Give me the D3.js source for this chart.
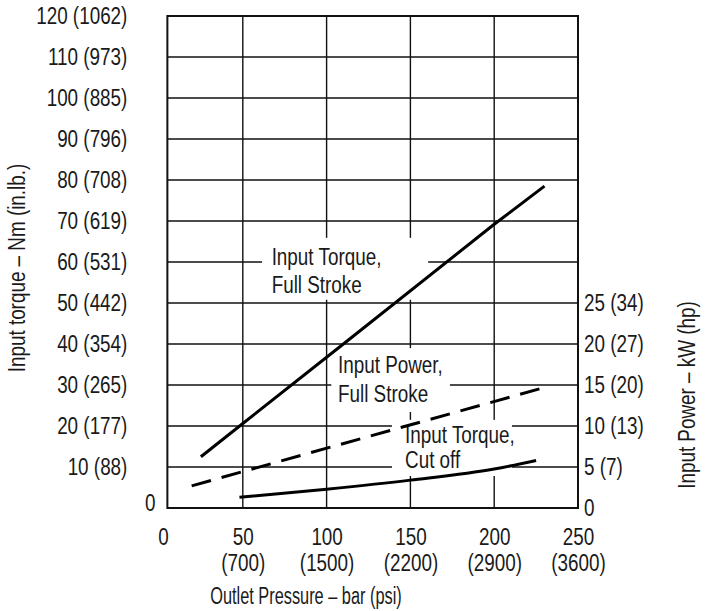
<!DOCTYPE html>
<html>
<head>
<meta charset="utf-8">
<script src="https://cdn.jsdelivr.net/npm/d3@7"></script>
<style>
  body { margin: 0; background: #fff; }
  text { font-family: "Liberation Sans", Arial, sans-serif; fill: #1a1a1a; }
</style>
</head>
<body>
<div id="wrapper"></div>
<script>
// axis ticks
const pressureBar = [0, 50, 100, 150, 200, 250];
const pressurePsi = ["", "700", "1500", "2200", "2900", "3600"];
const torqueNm = [0, 10, 20, 30, 40, 50, 60, 70, 80, 90, 100, 110, 120];
const torqueInLb = ["", "88", "177", "265", "354", "442", "531", "619", "708", "796", "885", "973", "1062"];
const powerKw = [0, 5, 10, 15, 20, 25];
const powerHp = ["", "7", "13", "20", "27", "34"];

// curves
const torqueFullBar = [25, 50, 110, 200, 230];
const torqueFullNm = [12.5, 20.6, 40, 69.2, 78.5];
const powerFullBar = [19.5, 230];
const powerFullKw = [2.7, 14.7];
const torqueCutBar = [48, 100, 150, 200, 225];
const torqueCutNm = [2.6, 4.6, 6.8, 9.5, 11.6];

const dimension = {
    width: 713,
    height: 611,
    margin: { top: 16, left: 159, bottom: 103, right: 135 }
};
dimension.boundedWidth = dimension.width - dimension.margin.left - dimension.margin.right;
dimension.boundedHeight = dimension.height - dimension.margin.top - dimension.margin.bottom;

const xStart = 5; // left frame sits a little right of 0 bar
const fontSize = "23px";

const svg = d3.select("#wrapper").append("svg")
    .attr("width", dimension.width)
    .attr("height", dimension.height);
const bounded = svg.append("g")
    .attr("transform", `translate(${dimension.margin.left},${dimension.margin.top})`);

const xScaler = d3.scaleLinear().domain([0, 250]).range([0, dimension.boundedWidth]);
const yScaler = d3.scaleLinear().domain([0, 120]).range([dimension.boundedHeight, 0]);
const yPower = d3.scaleLinear().domain([0, 60]).range([dimension.boundedHeight, 0]);

const x0 = xScaler(xStart), x1 = xScaler(250);
const y0 = yScaler(0), y1 = yScaler(120);

// grid
const grid = bounded.append("g").attr("stroke", "#111").attr("stroke-width", 1.4);
grid.selectAll("line.h")
    .data(torqueNm.filter(d => d > 0 && d < 120))
    .join("line")
    .attr("x1", x0).attr("x2", x1)
    .attr("y1", d => yScaler(d)).attr("y2", d => yScaler(d));
grid.selectAll("line.v")
    .data(pressureBar.filter(d => d > 0 && d < 250))
    .join("line")
    .attr("y1", y0).attr("y2", y1)
    .attr("x1", d => xScaler(d)).attr("x2", d => xScaler(d));

// label boxes (white, they cut the grid)
const notes = [
    { lines: ["Input Torque,", "Full Stroke"], box: [61.5, 160.6, 65.9, 50.8], tx: 67.2, ty: [59.3, 52.5] },
    { lines: ["Input Power,", "Full Stroke"], box: [102.8, 173.6, 39, 23.4], tx: 106.8, ty: [32.9, 25.9] },
    { lines: ["Input Torque,", "Cut off"], box: [139, 210.6, 21.5, 7.8], tx: 146.8, ty: [15.8, 9.7] }
];
const noteGroup = bounded.append("g");
noteGroup.selectAll("rect")
    .data(notes)
    .join("rect")
    .attr("x", d => xScaler(d.box[0]))
    .attr("y", d => yScaler(d.box[2]))
    .attr("width", d => xScaler(d.box[1]) - xScaler(d.box[0]))
    .attr("height", d => yScaler(d.box[3]) - yScaler(d.box[2]))
    .attr("fill", "#fff");
notes.forEach(n => {
    n.lines.forEach((t, i) => {
        noteGroup.append("text")
            .attr("x", xScaler(n.tx))
            .attr("y", yScaler(n.ty[i]))
            .attr("font-size", fontSize)
            .text(t);
    });
});

// frame
bounded.append("rect")
    .attr("x", x0).attr("y", y1)
    .attr("width", x1 - x0).attr("height", y0 - y1)
    .attr("fill", "none")
    .attr("stroke", "#111")
    .attr("stroke-width", 2);

// curves
const line = d3.line().x(d => xScaler(d[0])).y(d => yScaler(d[1]));
const powerLine = d3.line().x(d => xScaler(d[0])).y(d => yPower(d[1]));

bounded.append("path")
    .attr("d", line(d3.zip(torqueFullBar, torqueFullNm)))
    .attr("fill", "none").attr("stroke", "#000").attr("stroke-width", 3);
bounded.append("path")
    .attr("d", powerLine(d3.zip(powerFullBar, powerFullKw)))
    .attr("fill", "none").attr("stroke", "#000").attr("stroke-width", 3)
    .attr("stroke-dasharray", "20 11");
bounded.append("path")
    .attr("d", line.curve(d3.curveMonotoneX)(d3.zip(torqueCutBar, torqueCutNm)))
    .attr("fill", "none").attr("stroke", "#000").attr("stroke-width", 3);

// left axis
const yAxisGroup = bounded.append("g")
    .attr("transform", `translate(${x0},0)`)
    .call(d3.axisLeft(yScaler).tickValues(torqueNm).tickSize(0).tickPadding(40)
        .tickFormat((d, i) => torqueInLb[i] ? `${d} (${torqueInLb[i]})` : `${d}`));
yAxisGroup.select(".domain").remove();
yAxisGroup.selectAll("text").attr("font-size", fontSize).attr("fill", "#1a1a1a").attr("font-family", null);
yAxisGroup.selectAll(".tick").filter(d => d === 0).select("text").attr("x", -12).attr("dy", "0.1em");

// right axis
const rAxisGroup = bounded.append("g")
    .attr("transform", `translate(${x1},0)`)
    .call(d3.axisRight(yPower).tickValues(powerKw).tickSize(0).tickPadding(6)
        .tickFormat((d, i) => powerHp[i] ? `${d} (${powerHp[i]})` : `${d}`));
rAxisGroup.select(".domain").remove();
rAxisGroup.selectAll("text").attr("font-size", fontSize).attr("fill", "#1a1a1a").attr("font-family", null);

// bottom axis
const xAxisGroup = bounded.append("g")
    .attr("transform", `translate(0,${y0})`)
    .call(d3.axisBottom(xScaler).tickValues(pressureBar).tickSize(0).tickPadding(21).tickFormat(d => d));
xAxisGroup.select(".domain").remove();
xAxisGroup.selectAll("text").attr("font-size", fontSize).attr("fill", "#1a1a1a").attr("font-family", null);
xAxisGroup.selectAll(".tick").filter(d => d === 0).select("text").attr("x", 4);
xAxisGroup.selectAll(".tick")
    .append("text")
    .attr("y", 63)
    .attr("text-anchor", "middle")
    .attr("font-size", fontSize)
    .text((d, i) => pressurePsi[i] ? `(${pressurePsi[i]})` : "");

// axis titles
svg.append("text")
    .attr("class", "title-x")
    .attr("x", 306).attr("y", 604)
    .attr("text-anchor", "middle")
    .attr("font-size", fontSize)
    .text("Outlet Pressure – bar (psi)");
svg.append("text")
    .attr("transform", "translate(25,268) rotate(-90)")
    .attr("text-anchor", "middle")
    .attr("font-size", fontSize)
    .text("Input torque – Nm (in.lb.)");
svg.append("text")
    .attr("transform", "translate(695,395) rotate(-90)")
    .attr("text-anchor", "middle")
    .attr("font-size", fontSize)
    .text("Input Power – kW (hp)");

// no narrow font installed: squeeze every label to a condensed width
svg.selectAll("text").each(function() {
    const w = this.getComputedTextLength();
    const squeeze = this.classList.contains("title-x") ? 0.71 : 0.82;
    if (w > 0) {
        d3.select(this)
            .attr("textLength", w * squeeze)
            .attr("lengthAdjust", "spacingAndGlyphs");
    }
});
</script>
</body>
</html>
